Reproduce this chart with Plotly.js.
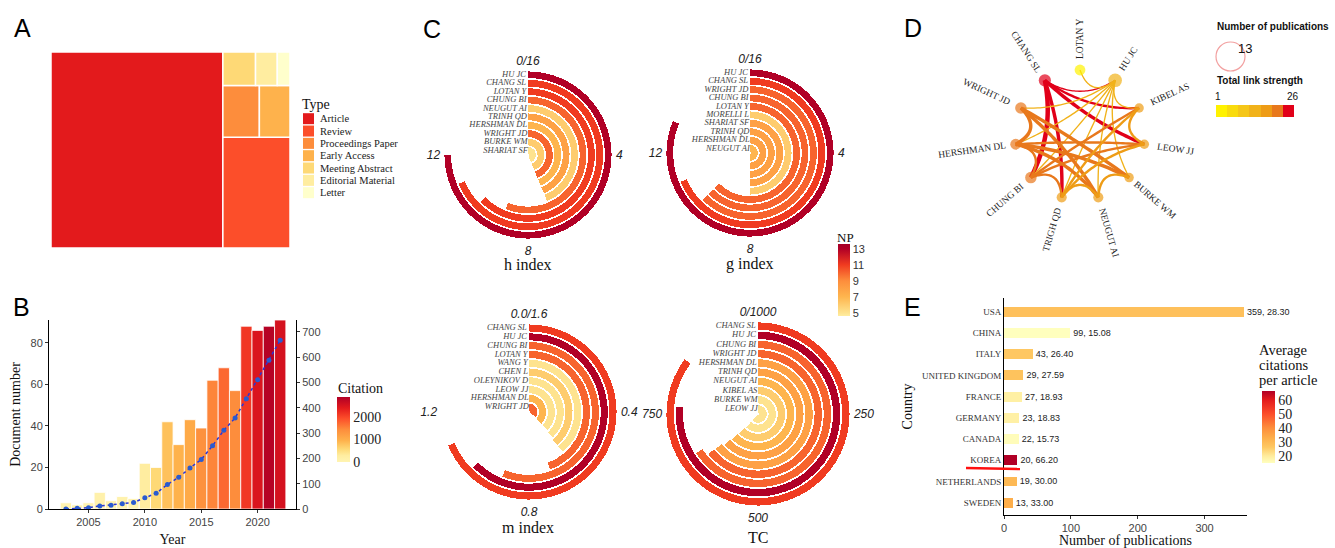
<!DOCTYPE html>
<html><head><meta charset="utf-8">
<script src="https://cdn.plot.ly/plotly-3.0.1.min.js"></script>
<style>html,body{margin:0;padding:0;background:#fff;}#chart{width:1335px;height:548px;}</style>
</head><body><div id="chart"></div>
<script>
// ---------------- DATA ----------------
// Panel A: document types
const docTypes=["Article","Review","Proceedings Paper","Early Access","Meeting Abstract","Editorial Material","Letter"];
const docCounts=[553,122,31,26,18,12,7];
const typeColors=["#e31a1c","#fc4e2a","#fd8d3c","#feb24c","#fed976","#ffeda0","#ffffcc"];

// Panel B: annual output
const years=[2003,2004,2005,2006,2007,2008,2009,2010,2011,2012,2013,2014,2015,2016,2017,2018,2019,2020,2021,2022];
const docNumbers=[3,2,3,8,4,6,5,22,20,42,31,43,39,62,68,57,88,86,88,91];
const yearCitations=[40,20,50,120,60,100,80,290,580,810,960,1070,1400,1510,1740,1450,2150,2500,2850,2550];
const cumulativeLine=[0,3,5,12,15,21,26,44,62,97,125,162,196,250,311,360,436,511,588,667];

// Panel C: author indices
const hAuthors=["HU JC","CHANG SL","LOTAN Y","CHUNG BI","NEUGUT AI","TRINH QD","HERSHMAN DL","WRIGHT JD","BURKE WM","SHARIAT SF"];
const hIndex=[12,11,10,9,7,7,7,7,7,7];
const hNP=[13,11,11,10,6,8,7,10,6,5];
const gAuthors=["HU JC","CHANG SL","WRIGHT JD","CHUNG BI","LOTAN Y","MORELLI L","SHARIAT SF","TRINH QD","HERSHMAN DL","NEUGUT AI"];
const gIndex=[13,11,10,10,10,8,8,8,8,8];
const gNP=[13,11,10,10,10,6,8,8,8,7];
const mAuthors=["CHANG SL","HU JC","CHUNG BI","LOTAN Y","WANG Y","CHEN L","OLEYNIKOV D","LEOW JJ","HERSHMAN DL","WRIGHT JD"];
const mIndex=[1.1,1.0,0.9,0.71,0.62,0.62,0.61,0.6,0.6,0.56];
const mNP=[11,13,10,10,5,6,5,5,7,10];
const tcAuthors=["CHANG SL","HU JC","CHUNG BI","WRIGHT JD","HERSHMAN DL","TRINH QD","NEUGUT AI","KIBEL AS","BURKE WM","LEOW JJ"];
const tcValues=[852,764,660,642,640,632,628,622,615,610];
const tcNP=[11,13,10,10,8,8,7,6,5,5];

// Panel D: co-authorship network
const coauthors=["LOTAN Y","HU JC","KIBEL AS","LEOW JJ","BURKE WM","NEUGUT AI","TRIGH QD","CHUNG BI","HERSHMAN DL","WRIGHT JD","CHANG SL"];
const coauthorNP=[9,13,7,7,7,8,8,10,9,10,11];
const linkStrength=[1,12,16,16,17,18,18,19,22,22,26];
const linkSource=["CHANG SL","CHANG SL","CHANG SL","CHANG SL","CHANG SL","HU JC","HU JC","HU JC","HU JC","HU JC","HU JC","HU JC","HU JC","WRIGHT JD","WRIGHT JD","WRIGHT JD","HERSHMAN DL","HERSHMAN DL","HERSHMAN DL","HERSHMAN DL","CHUNG BI","CHUNG BI","CHUNG BI","TRIGH QD","TRIGH QD","TRIGH QD","NEUGUT AI","KIBEL AS"];
const linkTarget=["HU JC","KIBEL AS","LEOW JJ","CHUNG BI","TRIGH QD","LOTAN Y","WRIGHT JD","HERSHMAN DL","KIBEL AS","BURKE WM","NEUGUT AI","TRIGH QD","CHUNG BI","HERSHMAN DL","BURKE WM","NEUGUT AI","CHUNG BI","BURKE WM","NEUGUT AI","LEOW JJ","TRIGH QD","KIBEL AS","LEOW JJ","KIBEL AS","LEOW JJ","NEUGUT AI","BURKE WM","LEOW JJ"];
const linkWeight=[1,2,3,4,3,1,1,1,1,1,1,1,1,3,3,3,2,3,3,2,2,2,2,2,2,2,2,2];
const strengthColors=["#fff200","#f9db0d","#f5c618","#f1b21a","#ee9c16","#e8781c","#e10019"];

// Panel E: countries
const countries=["USA","CHINA","ITALY","UNITED KINGDOM","FRANCE","GERMANY","CANADA","KOREA","NETHERLANDS","SWEDEN"];
const countryPubs=[359,99,43,29,27,23,22,20,19,13];
const countryAvgCit=[28.30,15.08,26.40,27.59,18.93,18.83,15.73,66.20,30.00,33.00];

// ---------------- HELPERS ----------------
const W=1335,H=548;
const px=x=>x/W, py=y=>1-y/H;
const SERIF="Liberation Serif, Times New Roman, serif";
const SANS="Liberation Sans, Arial, sans-serif";
const NP_SCALE=[[0,'#ffeda0'],[0.044,'#fee38f'],[0.267,'#feb54e'],[0.489,'#fd8d3c'],[0.711,'#f03b20'],[0.933,'#b10026'],[1,'#a50026']];
const CIT_SCALE=[[0,'#fff4b2'],[0.1,'#ffeda0'],[0.2,'#fed976'],[0.33,'#feb24c'],[0.5,'#fd8d3c'],[0.67,'#fc4e2a'],[0.83,'#e31a1c'],[1,'#b10026']];
const AVG_SCALE=[[0,'#ffffbf'],[0.1,'#ffeb9c'],[0.22,'#fec862'],[0.35,'#fdae4b'],[0.49,'#fd8d3c'],[0.68,'#fc4e2a'],[0.88,'#e31a1c'],[1,'#b10026']];
const D_SCALE=[];
strengthColors.forEach((c,i)=>{D_SCALE.push([i/7,c]);D_SCALE.push([(i+1)/7,c]);});
const strengthColor=v=>strengthColors[Math.max(0,Math.min(6,Math.floor((v-1)/25*7)))];

const traces=[];
const annotations=[];
const shapes=[];
const note=(text,x,y,opts)=>annotations.push(Object.assign({text:text,x:px(x),y:py(y),xref:'paper',yref:'paper',xanchor:'left',yanchor:'middle',showarrow:false},opts));

// ---------------- A: treemap ----------------
traces.push({type:'treemap',labels:docTypes,parents:docTypes.map(()=>""),values:docCounts,
  marker:{colors:typeColors,line:{color:'#ffffff',width:1.5},pad:{t:0,l:0,r:0,b:0}},
  textinfo:'none',sort:true,pathbar:{visible:false},
  tiling:{packing:'squarify',flip:'y',pad:0},
  domain:{x:[px(51),px(290)],y:[py(248),py(52)]},hoverinfo:'skip'});
note('Type',300,105,{font:{family:SERIF,size:14,color:'#111'}});
docTypes.forEach((t,i)=>{
  const yc=118.7+i*12.33;
  shapes.push({type:'rect',xref:'paper',yref:'paper',x0:px(303),x1:px(314),y0:py(yc-5.5),y1:py(yc+5.5),fillcolor:typeColors[i],line:{width:0}});
  note(t,318,yc,{font:{family:SERIF,size:10.5,color:'#222'}});
});

// ---------------- B: annual bars ----------------
traces.push({type:'bar',x:years,y:docNumbers,xaxis:'x',yaxis:'y',width:1,
  marker:{color:yearCitations,colorscale:CIT_SCALE,cmin:0,cmax:2900,line:{color:'#ffffff',width:0.8},
    showscale:true,colorbar:{x:px(337),xanchor:'left',xpad:0,y:py(397),yanchor:'top',ypad:0,len:65,lenmode:'pixels',thickness:13,outlinewidth:0,ticks:'',tickvals:[0,1000,2000],tickfont:{family:SERIF,size:14,color:'#222'}}},
  hoverinfo:'skip',showlegend:false});
traces.push({type:'scatter',mode:'lines+markers',x:years,y:cumulativeLine,xaxis:'x',yaxis:'y2',
  line:{color:'#2a35d8',dash:'dot',width:1.5},marker:{color:'#2a5bd0',size:5},hoverinfo:'skip',showlegend:false});
note('Citation',336,388,{font:{family:SERIF,size:14,color:'#111'}});

// ---------------- C: circular bars ----------------
function ringTraces(authors,vals,np,maxV,subplot,showscale){
  const n=authors.length;
  const deg=vals.map(v=>v/maxV*360);
  const t1={type:'barpolar',subplot:subplot,r:authors.map(()=>0.8),base:authors.map((a,i)=>n-1-i+0.15),
    theta:deg.map(d=>d/2),width:deg,
    marker:{color:np,colorscale:NP_SCALE,cmin:4.6,cmax:13.6,line:{width:0},showscale:showscale,
      colorbar:{x:px(838),xanchor:'left',xpad:0,y:py(244),yanchor:'top',ypad:0,len:72,lenmode:'pixels',thickness:12,outlinewidth:0,ticks:'',tickvals:[5,7,9,11,13],tickfont:{family:SANS,size:11,color:'#333'}}},
    hoverinfo:'skip',showlegend:false};
  const t2={type:'scatterpolar',subplot:subplot,mode:'text',r:authors.map((a,i)=>n-1-i+0.55),theta:authors.map(()=>-1.5),
    text:authors,textposition:'middle left',textfont:{family:SERIF,size:8.5,color:'#444',style:'italic'},cliponaxis:false,hoverinfo:'skip',showlegend:false};
  return [t1,t2];
}
traces.push(...ringTraces(hAuthors,hIndex,hNP,16,'polar',true));
traces.push(...ringTraces(gAuthors,gIndex,gNP,16,'polar2',false));
traces.push(...ringTraces(mAuthors,mIndex,mNP,1.6,'polar3',false));
traces.push(...ringTraces(tcAuthors,tcValues,tcNP,1000,'polar4',false));
function polarLayout(cx,cy,R,ticktext){
  return {domain:{x:[px(cx-R),px(cx+R)],y:[py(cy+R),py(cy-R)]},bgcolor:'rgba(0,0,0,0)',hole:0,
    radialaxis:{visible:false,range:[0,10]},
    angularaxis:{rotation:90,direction:'clockwise',tickmode:'array',tickvals:[0,90,180,270],ticktext:ticktext,
      showgrid:false,showline:false,ticks:'outside',ticklen:1,tickcolor:'rgba(0,0,0,0)',tickfont:{family:SANS,size:12,color:'#222',style:'italic'}}};
}
note('NP',845,238,{xanchor:'center',font:{family:SERIF,size:13,color:'#111'}});
[['h index',528,264],['g index',750,264],['m index',528,527],['TC',758,537]].forEach(a=>{
  note(a[0],a[1],a[2],{xanchor:'center',font:{family:SERIF,size:16,color:'#111'}});
});

// ---------------- D: network ----------------
const nN=coauthors.length;
const angDeg=coauthors.map((_,k)=>90-k*360/nN);
const nodeX=angDeg.map(a=>Math.cos(a*Math.PI/180));
const nodeY=angDeg.map(a=>Math.sin(a*Math.PI/180));
const idx=name=>coauthors.indexOf(name);
linkSource.forEach((s,e)=>{
  const a=idx(s),b=idx(linkTarget[e]);
  const mx=(nodeX[a]+nodeX[b])/2, my=(nodeY[a]+nodeY[b])/2;
  const cxp=mx*0.6, cyp=my*0.6;
  const xs=[],ys=[];
  for(let i=0;i<=24;i++){const t=i/24;
    xs.push((1-t)*(1-t)*nodeX[a]+2*t*(1-t)*cxp+t*t*nodeX[b]);
    ys.push((1-t)*(1-t)*nodeY[a]+2*t*(1-t)*cyp+t*t*nodeY[b]);}
  traces.push({type:'scatter',mode:'lines',x:xs,y:ys,xaxis:'x3',yaxis:'y4',
    line:{color:strengthColor(linkStrength[a]),width:0.3+1.05*linkWeight[e],shape:'spline'},hoverinfo:'skip',showlegend:false,cliponaxis:false});
});
traces.push({type:'scatter',mode:'markers',x:nodeX,y:nodeY,xaxis:'x3',yaxis:'y4',cliponaxis:false,
  marker:{size:coauthorNP.map(v=>4.5+v*0.7),color:linkStrength,colorscale:D_SCALE,cmin:1,cmax:26,line:{width:0},showscale:true,
    colorbar:{orientation:'h',x:px(1216),xanchor:'left',xpad:0,y:py(105),yanchor:'top',ypad:0,len:78,lenmode:'pixels',thickness:12,outlinewidth:0,ticks:'',showticklabels:false}},
  hoverinfo:'skip',showlegend:false});
coauthors.forEach((name,k)=>{
  let d=angDeg[k]; while(d<=-180)d+=360; while(d>180)d-=360;
  const off=1+(name.length*3.15+9)/65;
  let ta;
  if(d>90.01||d<-90.01){let d2=d<0?d+360:d; ta=180-d2;} else ta=-d;
  annotations.push({text:name,x:nodeX[k]*off,y:nodeY[k]*off,xref:'x3',yref:'y4',xanchor:'center',yanchor:'middle',textangle:ta,showarrow:false,font:{family:SERIF,size:9.5,color:'#222'}});
});
note('<b>Number of publications</b>',1215,27,{font:{family:SANS,size:10,color:'#111'}});
note('13',1245,48,{xanchor:'center',font:{family:SANS,size:13,color:'#111'}});
note('<b>Total link strength</b>',1215,80,{font:{family:SANS,size:10,color:'#111'}});
note('1',1218,97,{xanchor:'center',font:{family:SANS,size:10,color:'#111'}});
note('26',1293,97,{xanchor:'center',font:{family:SANS,size:10,color:'#111'}});
shapes.push({type:'circle',xref:'paper',yref:'paper',x0:px(1216),x1:px(1245),y0:py(71),y1:py(42),line:{color:'#f2a0a0',width:1.2}});

// ---------------- E: countries ----------------
traces.push({type:'bar',orientation:'h',x:countryPubs,y:countries,xaxis:'x2',yaxis:'y3',width:0.47,
  text:countryPubs.map((n,i)=>n+', '+countryAvgCit[i].toFixed(2)),textposition:'outside',cliponaxis:false,constraintext:'none',
  textfont:{family:SANS,size:9,color:'#222'},
  marker:{color:countryAvgCit,colorscale:AVG_SCALE,cmin:15,cmax:66.2,line:{width:0},showscale:true,
    colorbar:{x:px(1262),xanchor:'left',xpad:0,y:py(391),yanchor:'top',ypad:0,len:72,lenmode:'pixels',thickness:13,outlinewidth:0,ticks:'',tickvals:[20,30,40,50,60],tickfont:{family:SERIF,size:14,color:'#222'}}},
  hoverinfo:'skip',showlegend:false});
['Average','citations','per article'].forEach((t,i)=>note(t,1257,350+i*15,{font:{family:SERIF,size:14.5,color:'#111'}}));
shapes.push({type:'line',xref:'paper',yref:'paper',x0:px(966),x1:px(1020),y0:py(468),y1:py(469),line:{color:'#ff1010',width:2.5}});

// panel letters
[['A',22,28],['B',21,307],['C',432,29],['D',913,28],['E',912,307]].forEach(l=>{
  note(l[0],l[1],l[2],{xanchor:'center',font:{family:SANS,size:25,color:'#000'}});
});

const axLine={showline:true,linecolor:'#000',linewidth:1,zeroline:false,showgrid:false,ticks:'outside',ticklen:3,tickcolor:'#333',fixedrange:true};
const layout={
  width:W,height:H,margin:{l:0,r:0,t:0,b:0},paper_bgcolor:'#fff',plot_bgcolor:'rgba(0,0,0,0)',
  showlegend:false,hovermode:false,barmode:'overlay',bargap:0,
  xaxis:Object.assign({},axLine,{domain:[px(49),px(296)],range:[2001.5,2023.4],anchor:'y',tickvals:[2005,2010,2015,2020],
    tickfont:{family:SANS,size:11,color:'#444'},title:{text:'Year',font:{family:SERIF,size:14,color:'#111'},standoff:6}}),
  yaxis:Object.assign({},axLine,{domain:[py(509),py(320)],range:[0,91],anchor:'x',tickvals:[0,20,40,60,80],
    tickfont:{family:SANS,size:11,color:'#444'},title:{text:'Document number',font:{family:SERIF,size:14,color:'#111'},standoff:6}}),
  yaxis2:Object.assign({},axLine,{overlaying:'y',side:'right',anchor:'x',range:[0,747],tickvals:[0,100,200,300,400,500,600,700],
    tickfont:{family:SANS,size:11,color:'#444'}}),
  xaxis2:Object.assign({},axLine,{domain:[px(1004),px(1247)],range:[0,363.5],anchor:'y3',tickvals:[0,100,200,300],
    tickfont:{family:SANS,size:11,color:'#444'},title:{text:'Number of publications',font:{family:SERIF,size:14,color:'#111'},standoff:4}}),
  yaxis3:Object.assign({},axLine,{domain:[py(515),py(298)],anchor:'x2',type:'category',categoryorder:'array',categoryarray:countries,range:[9.58,-0.65],ticks:'',
    tickfont:{family:SERIF,size:9,color:'#333'},title:{text:'Country',font:{family:SERIF,size:14,color:'#111'},standoff:6}}),
  xaxis3:{domain:[px(920),px(1240)],range:[-2.4615,2.4615],anchor:'y4',visible:false,fixedrange:true},
  yaxis4:{domain:[py(260),py(10)],range:[-1.923,1.923],anchor:'x3',visible:false,fixedrange:true},
  polar:polarLayout(528,155,84,['0/16','4','8','12']),
  polar2:polarLayout(750,153,84,['0/16','4','8','12']),
  polar3:polarLayout(529,412,88,['0.0/1.6','0.4','0.8','1.2']),
  polar4:polarLayout(758,414,92,['0/1000','250','500','750']),
  annotations:annotations,shapes:shapes
};
Plotly.newPlot('chart',traces,layout,{displayModeBar:false,staticPlot:true});
</script></body></html>
